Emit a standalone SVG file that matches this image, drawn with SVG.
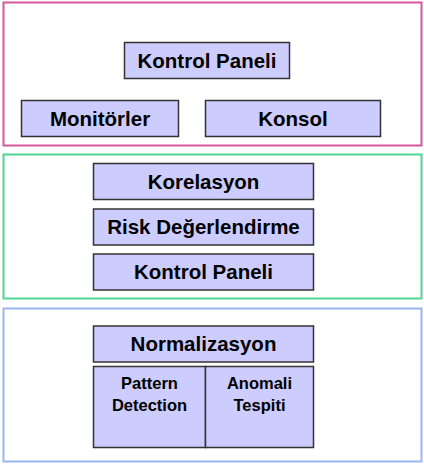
<svg xmlns="http://www.w3.org/2000/svg" width="424" height="465" viewBox="0 0 424 465">
<style>
.frame{fill:none;stroke-width:2}
.box{fill:#ccccff;stroke:#333333;stroke-width:1.5}
.t{font-family:"Liberation Sans",Arial,Helvetica,sans-serif;font-weight:bold;fill:#000;text-anchor:middle}
.big{font-size:20.5px}
.small{font-size:16.5px}
</style>
<rect width="424" height="465" fill="#ffffff"/>
<g id="layer-top">
<rect class="frame" x="3.5" y="2.5" width="418" height="143" stroke="#d6579b"/>
</g>
<g id="layer-middle">
<rect class="frame" x="3.5" y="154.5" width="418" height="144" stroke="#4fd690"/>
</g>
<g id="layer-bottom">
<rect class="frame" x="3.5" y="308.5" width="418" height="153" stroke="#9bb5ee"/>
</g>
<g id="kontrol-paneli-top">
<rect class="box" x="124.5" y="42.5" width="165" height="36"/>
<text class="t big" x="207" y="67.5">Kontrol Paneli</text>
</g>
<g id="monitorler">
<rect class="box" x="21.5" y="100.5" width="157" height="36"/>
<text class="t big" x="100" y="125.5">Monitörler</text>
</g>
<g id="konsol">
<rect class="box" x="205.5" y="100.5" width="175" height="36"/>
<text class="t big" x="293" y="125.5">Konsol</text>
</g>
<g id="korelasyon">
<rect class="box" x="93.5" y="163.5" width="220" height="36"/>
<text class="t big" x="203.5" y="188.5">Korelasyon</text>
</g>
<g id="risk">
<rect class="box" x="93.5" y="209" width="220" height="36"/>
<text class="t big" x="203.5" y="234">Risk Değerlendirme</text>
</g>
<g id="kontrol-paneli-mid">
<rect class="box" x="93.5" y="254" width="220" height="36"/>
<text class="t big" x="203.5" y="279">Kontrol Paneli</text>
</g>
<g id="normalizasyon">
<rect class="box" x="93.5" y="326" width="220" height="36"/>
<text class="t big" x="203.5" y="351">Normalizasyon</text>
</g>
<g id="pattern-detection">
<rect class="box" x="93.5" y="366.5" width="112" height="81"/>
<text class="t small" x="149.5" y="388.5">Pattern</text>
<text class="t small" x="149.5" y="410.5">Detection</text>
</g>
<g id="anomali-tespiti">
<rect class="box" x="205.5" y="366.5" width="108" height="81"/>
<text class="t small" x="259.5" y="388.5">Anomali</text>
<text class="t small" x="259.5" y="410.5">Tespiti</text>
</g>
<g id="connectors"></g>
</svg>
